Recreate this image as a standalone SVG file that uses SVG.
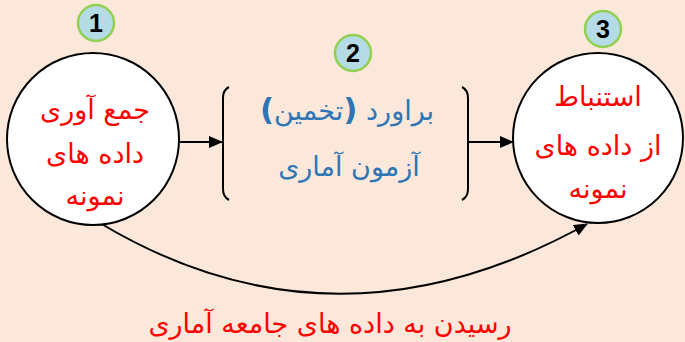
<svg xmlns="http://www.w3.org/2000/svg" width="685" height="342" viewBox="0 0 685 342">
<defs>
<marker id="ah" viewBox="0 0 14 12" refX="13" refY="6" markerWidth="14" markerHeight="12" markerUnits="userSpaceOnUse" orient="auto"><path d="M0,0 L14,6 L0,12 z" fill="#000"/></marker>
<style>
.node{fill:#fff;stroke:#000;stroke-width:2}
.badge{fill:#b4dbe6;stroke:#92d050;stroke-width:2.5}
.num{font-family:"Liberation Sans",Arial,sans-serif;font-weight:bold;font-size:25px;fill:#000;text-anchor:middle}
.red{font-family:"DejaVu Sans",sans-serif;font-size:27px;fill:#ff0000;text-anchor:middle}
.blue{font-family:"DejaVu Sans",sans-serif;font-size:27px;fill:#2e75b6;text-anchor:middle}
.line{fill:none;stroke:#000;stroke-width:2}
</style>
</defs>
<rect width="685" height="342" fill="#fbe8db"/>
<g id="connectors">
<line class="line" x1="179" y1="142" x2="222" y2="142" marker-end="url(#ah)"/>
<line class="line" x1="469" y1="142" x2="513" y2="142" marker-end="url(#ah)"/>
<path class="line" d="M100,223 Q335,364 587,224" marker-end="url(#ah)"/>
</g>
<g id="node1">
<circle class="node" cx="93" cy="139" r="86"/>
<text class="red" x="95" y="119" direction="rtl">جمع آوری</text>
<text class="red" x="95" y="163" direction="rtl">داده های</text>
<text class="red" x="95" y="205" direction="rtl">نمونه</text>
</g>
<g id="badge1"><circle class="badge" cx="96" cy="23" r="18"/><text class="num" x="96" y="32">1</text></g>
<g id="node2">
<path class="line" d="M229,87 Q223,90 223,98 L223,189 Q223,197 229,200"/>
<path class="line" d="M462,87 Q468,90 468,98 L468,189 Q468,197 462,200"/>
<text class="blue" x="347" y="120" direction="rtl">براورد <tspan font-weight="bold" font-size="31">(</tspan>تخمین<tspan font-weight="bold" font-size="31">)</tspan></text>
<text class="blue" x="349" y="176" direction="rtl">آزمون آماری</text>
</g>
<g id="badge2"><circle class="badge" cx="353" cy="53" r="18"/><text class="num" x="353" y="62">2</text></g>
<g id="node3">
<circle class="node" cx="598" cy="138" r="85"/>
<text class="red" x="598" y="106" direction="rtl">استنباط</text>
<text class="red" x="598" y="155" direction="rtl">از داده های</text>
<text class="red" x="598" y="198" direction="rtl">نمونه</text>
</g>
<g id="badge3"><circle class="badge" cx="603" cy="29" r="18"/><text class="num" x="603" y="38">3</text></g>
<text class="red" x="330" y="333" font-size="26.5" direction="rtl">رسیدن به داده های جامعه آماری</text>
</svg>
